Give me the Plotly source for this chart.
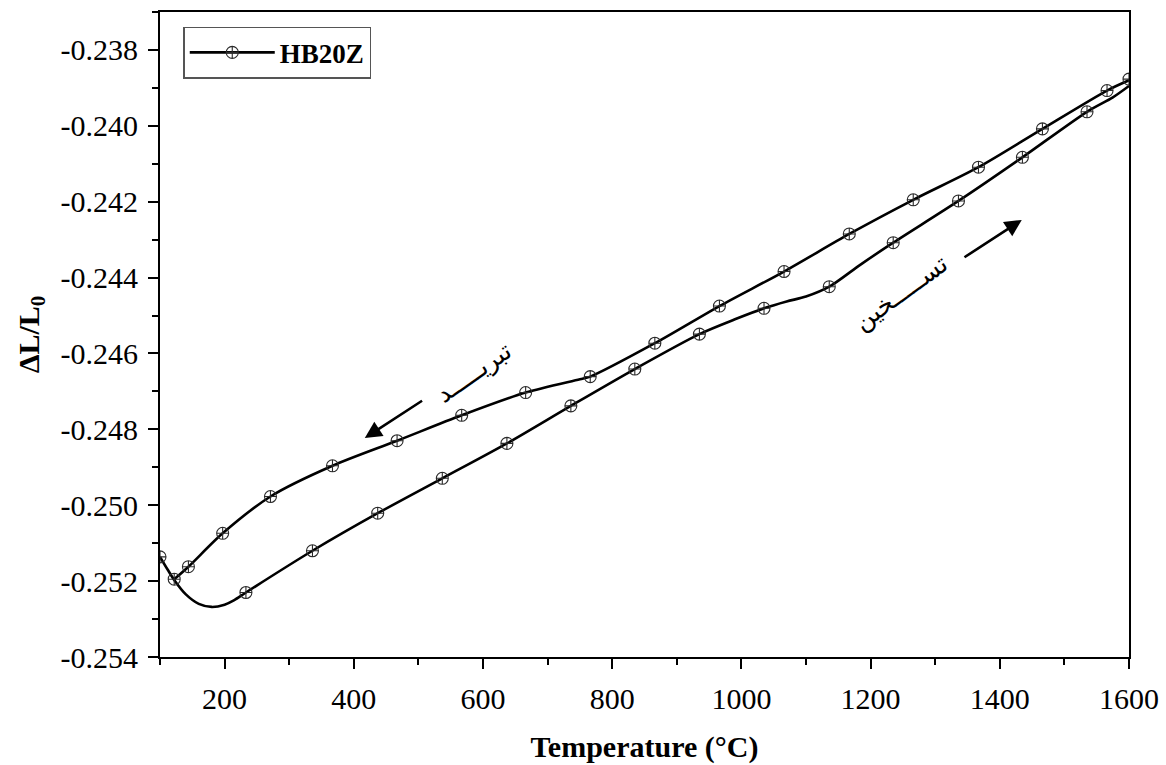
import plotly.graph_objects as go

# Dilatometry of HB20Z: relative length change vs temperature
# Heating branch (lower curve) - sampled points of the trace
heat_temp = [100, 112, 122, 140, 160, 180, 200, 215, 233, 336, 437, 537, 637, 736, 835,
             935, 990, 1035, 1070, 1100, 1136, 1185, 1235, 1336, 1435, 1535, 1575, 1600]
heat_dl = [-0.25136, -0.25170, -0.25197, -0.25235, -0.25260, -0.25268, -0.25262, -0.25250,
           -0.25230, -0.25120, -0.25021, -0.24929, -0.24837, -0.24738, -0.24641, -0.24549,
           -0.24510, -0.24481, -0.24463, -0.24450, -0.24424, -0.24365, -0.24308, -0.24198,
           -0.24083, -0.23963, -0.23925, -0.23895]
# Heating branch - recorded symbols
heat_mark_temp = [100, 233, 336, 437, 537, 637, 736, 835, 935, 1035, 1136, 1235, 1336, 1435, 1535]
heat_mark_dl = [-0.25136, -0.25230, -0.25120, -0.25021, -0.24929, -0.24837, -0.24738, -0.24641,
                -0.24549, -0.24481, -0.24424, -0.24308, -0.24198, -0.24083, -0.23963]

# Cooling branch (upper curve)
cool_temp = [122, 144, 197, 271, 367, 467, 567, 666, 750, 766, 866, 966, 1066, 1167, 1266,
             1367, 1466, 1566, 1600]
cool_dl = [-0.25195, -0.25162, -0.25074, -0.24977, -0.24896, -0.24830, -0.24763, -0.24703,
           -0.24668, -0.24661, -0.24573, -0.24475, -0.24384, -0.24285, -0.24195, -0.24109,
           -0.24008, -0.23907, -0.23880]
cool_mark_temp = [122, 144, 197, 271, 367, 467, 567, 666, 766, 866, 966, 1066, 1167, 1266,
                  1367, 1466, 1566, 1600]
cool_mark_dl = [-0.25195, -0.25162, -0.25074, -0.24977, -0.24896, -0.24830, -0.24763, -0.24703,
                -0.24661, -0.24573, -0.24475, -0.24384, -0.24285, -0.24195, -0.24109, -0.24008,
                -0.23907, -0.23877]

x_ticks = [200, 400, 600, 800, 1000, 1200, 1400, 1600]
y_ticks = [-0.254, -0.252, -0.250, -0.248, -0.246, -0.244, -0.242, -0.240, -0.238]
y_tick_text = ["-0.254", "-0.252", "-0.250", "-0.248", "-0.246", "-0.244", "-0.242",
               "-0.240", "-0.238"]

SERIF = "Liberation Serif, Times New Roman, serif"
LINE_W = 2.6
marker_style = dict(symbol="circle-cross-open", size=12, color="#2a2a2a", line=dict(width=1.1))

fig = go.Figure()
for xs, ys in [(heat_temp, heat_dl), (cool_temp, cool_dl)]:
    fig.add_trace(go.Scatter(x=xs, y=ys, mode="lines", showlegend=False,
                             line=dict(color="black", width=LINE_W, shape="spline", smoothing=0.8),
                             hoverinfo="skip"))
for xs, ys in [(heat_mark_temp, heat_mark_dl), (cool_mark_temp, cool_mark_dl)]:
    fig.add_trace(go.Scatter(x=xs, y=ys, mode="markers", showlegend=False, marker=marker_style,
                             cliponaxis=True))
# legend entry
fig.add_trace(go.Scatter(x=[None], y=[None], mode="lines+markers", name="HB20Z",
                         line=dict(color="black", width=LINE_W), marker=marker_style))

# direction arrows
fig.add_annotation(x=417, y=-0.24823, ax=508, ay=-0.24722, xref="x", yref="y",
                   axref="x", ayref="y", showarrow=True, arrowhead=2, arrowsize=1.3,
                   arrowwidth=2.6, arrowcolor="black", text="")
fig.add_annotation(x=1434, y=-0.24248, ax=1343, ay=-0.24349, xref="x", yref="y",
                   axref="x", ayref="y", showarrow=True, arrowhead=2, arrowsize=1.3,
                   arrowwidth=2.6, arrowcolor="black", text="")
# branch labels (Persian)
fig.add_annotation(x=585, y=-0.24649, text="تبریـــــد", showarrow=False, textangle=-35,
                   font=dict(family="DejaVu Sans", size=25, color="black"))
fig.add_annotation(x=1247, y=-0.24438, text="تســـــخین", showarrow=False, textangle=-36,
                   font=dict(family="DejaVu Sans", size=25, color="black"))

axis_common = dict(showline=True, linecolor="black", linewidth=2, mirror=True,
                   ticks="outside", ticklen=10, tickwidth=2, tickcolor="black",
                   showgrid=False, zeroline=False, ticklabelstandoff=4, automargin=False,
                   tickfont=dict(family=SERIF, size=30, color="black"))

fig.update_xaxes(range=[100, 1600], tickvals=x_ticks,
                 minor=dict(ticks="outside", ticklen=6, tickwidth=2, tickcolor="black", dtick=100,
                            tick0=100, showgrid=False),
                 title=dict(text="<b>Temperature (°C)</b>", standoff=22,
                            font=dict(family=SERIF, size=30, color="black")),
                 **axis_common)
fig.update_yaxes(range=[-0.254, -0.237], tickvals=y_ticks, ticktext=y_tick_text,
                 minor=dict(ticks="outside", ticklen=6, tickwidth=2, tickcolor="black", dtick=0.001,
                            tick0=-0.254, showgrid=False),
                 title=dict(text="<b>ΔL/L<sub>0</sub></b>", standoff=12,
                            font=dict(family=SERIF, size=30, color="black")),
                 **axis_common)

fig.update_layout(
    width=1166, height=765,
    margin=dict(l=160, r=37, t=12, b=108, autoexpand=False),
    paper_bgcolor="white", plot_bgcolor="white",
    legend=dict(x=0.024, y=0.977, xanchor="left", yanchor="top",
                bordercolor="#555555", borderwidth=1.5, bgcolor="white",
                font=dict(family=SERIF, size=27, color="black", weight="bold"), itemwidth=85),
    showlegend=True,
)

fig.write_html("out.html")
